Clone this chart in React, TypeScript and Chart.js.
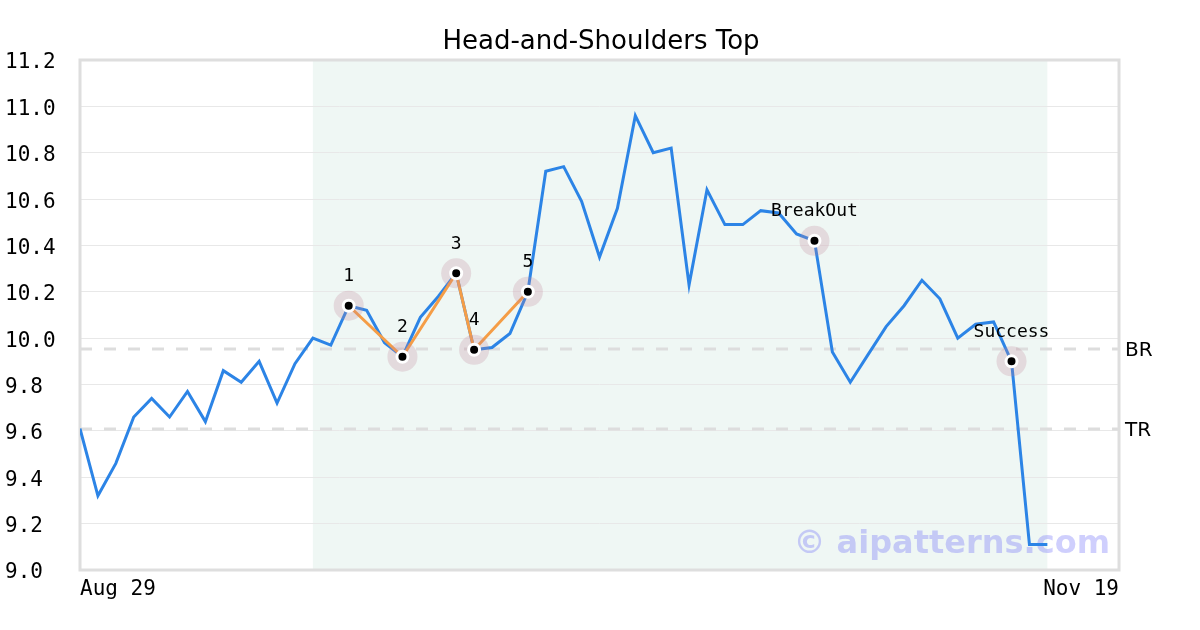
import { useEffect, useRef } from 'react';
import { Chart, registerables } from 'chart.js';

Chart.register(...registerables);

const TITLE = 'Head-and-Shoulders Top';
const WATERMARK = '© aipatterns.com';

// x tick labels and their slot positions (59 trading-day slots, data fills the first 55)
const xTickLabels = ['Aug 29', 'Nov 19'];
const xTickPositions = [0, 58];
const xMax = 58;

// closing prices
const prices = [
  9.61, 9.32, 9.46, 9.66, 9.74, 9.66, 9.77, 9.64, 9.86, 9.81,
  9.90, 9.72, 9.89, 10.00, 9.97, 10.14, 10.12, 9.98, 9.92, 10.09,
  10.18, 10.28, 9.95, 9.96, 10.02, 10.20, 10.72, 10.74, 10.59, 10.35,
  10.56, 10.96, 10.80, 10.82, 10.23, 10.64, 10.49, 10.49, 10.55, 10.54,
  10.45, 10.42, 9.94, 9.81, 9.93, 10.05, 10.14, 10.25, 10.17, 10.00,
  10.06, 10.07, 9.90, 9.11, 9.11,
];

// pattern pivot points
const patternIdx = [15, 18, 21, 22, 25];
const patternLabels = ['1', '2', '3', '4', '5'];

// event points
const eventIdx = [41, 52];
const eventLabels = ['BreakOut', 'Success'];

// horizontal levels
const levelNames = ['BR', 'TR'];
const levelValues = [9.955, 9.61];

// shaded pattern window (slot indices)
const shadeStart = 13;
const shadeEnd = 54;

const yMin = 9.0;
const yMax = 11.2;
const yStep = 0.2;

const MONO = '"DejaVu Sans Mono", monospace';
const SANS = '"DejaVu Sans", sans-serif';

export default function App() {
  const ref = useRef<HTMLCanvasElement | null>(null);

  useEffect(() => {
    document.body.style.margin = '0';
    const canvas = ref.current;
    if (!canvas) return;

    const pts = prices.map((v, i) => ({ x: i, y: v }));
    const pattern = patternIdx.map((i) => ({ x: i, y: prices[i] }));
    const markers = [...patternIdx, ...eventIdx].map((i) => ({ x: i, y: prices[i] }));

    const decor = {
      id: 'decor',
      beforeDraw(chart: any) {
        const { ctx, chartArea: a, scales } = chart;
        const x = scales.x;
        ctx.save();
        const x0 = x.getPixelForValue(shadeStart);
        const x1 = x.getPixelForValue(shadeEnd);
        ctx.fillStyle = 'rgb(239,247,244)';
        ctx.fillRect(x0, a.top, x1 - x0, a.bottom - a.top);
        ctx.restore();
      },
      beforeDatasetsDraw(chart: any) {
        const { ctx, chartArea: a, scales } = chart;
        const y = scales.y;
        ctx.save();
        // level lines
        ctx.strokeStyle = '#dddddd';
        ctx.lineWidth = 3;
        ctx.setLineDash([12, 12]);
        levelValues.forEach((v) => {
          const py = Math.round(y.getPixelForValue(v));
          ctx.beginPath();
          ctx.moveTo(a.left, py);
          ctx.lineTo(a.right, py);
          ctx.stroke();
        });
        ctx.setLineDash([]);
        // border
        ctx.strokeStyle = '#dedede';
        ctx.lineWidth = 3;
        ctx.strokeRect(a.left, a.top, a.right - a.left, a.bottom - a.top);
        // watermark
        ctx.font = 'bold 32px ' + SANS;
        ctx.fillStyle = 'rgba(110,110,250,0.33)';
        ctx.textAlign = 'right';
        ctx.textBaseline = 'alphabetic';
        ctx.fillText(WATERMARK, a.right - 9, 553);
        ctx.restore();
      },
      afterDraw(chart: any) {
        const { ctx, chartArea: a, scales } = chart;
        const x = scales.x;
        const y = scales.y;
        ctx.save();
        // title
        ctx.fillStyle = '#000';
        ctx.font = '26px ' + SANS;
        ctx.textAlign = 'center';
        ctx.textBaseline = 'alphabetic';
        ctx.fillText(TITLE, 601, 49);
        // level names
        ctx.font = '20px ' + SANS;
        ctx.textAlign = 'left';
        ctx.textBaseline = 'middle';
        levelValues.forEach((v, i) => {
          ctx.fillText(levelNames[i], a.right + 6, y.getPixelForValue(v) + 2);
        });
        // point labels
        ctx.font = '18px ' + MONO;
        ctx.textAlign = 'center';
        ctx.textBaseline = 'middle';
        patternIdx.forEach((idx, i) => {
          ctx.fillText(patternLabels[i], x.getPixelForValue(idx), y.getPixelForValue(prices[idx]) - 29);
        });
        eventIdx.forEach((idx, i) => {
          ctx.fillText(eventLabels[i], x.getPixelForValue(idx), y.getPixelForValue(prices[idx]) - 29);
        });
        ctx.restore();
      },
    };

    const chart = new Chart(canvas, {
      type: 'line',
      data: {
        datasets: [
          {
            data: markers,
            showLine: false,
            pointRadius: 5.5,
            pointBackgroundColor: '#000',
            pointBorderColor: '#fff',
            pointBorderWidth: 3,
            order: 0,
          } as any,
          {
            data: markers,
            showLine: false,
            pointRadius: 15,
            pointBackgroundColor: 'rgba(190,130,150,0.25)',
            pointBorderWidth: 0,
            order: 1,
          } as any,
          {
            data: pattern,
            borderColor: 'rgb(245,157,70)',
            borderWidth: 3,
            pointRadius: 0,
            tension: 0,
            order: 2,
          },
          {
            data: pts,
            borderColor: 'rgb(44,132,230)',
            borderWidth: 3,
            pointRadius: 0,
            tension: 0,
            order: 3,
          },
        ],
      },
      options: {
        responsive: false,
        animation: false,
        devicePixelRatio: 1,
        layout: { padding: { left: 5, top: 60, right: 81, bottom: 0 } },
        plugins: {
          legend: { display: false },
          tooltip: { enabled: false },
          title: { display: false },
        },
        scales: {
          x: {
            type: 'linear',
            min: 0,
            max: xMax,
            grid: { display: false, drawTicks: false },
            border: { display: false },
            afterBuildTicks: (scale: any) => {
              scale.ticks = xTickPositions.map((v) => ({ value: v }));
            },
            afterFit: (scale: any) => {
              scale.height = 60;
            },
            ticks: {
              autoSkip: false,
              maxRotation: 0,
              align: 'inner',
              padding: 7,
              color: '#000',
              font: { family: MONO, size: 21 },
              callback: (v: any) => {
                const k = xTickPositions.indexOf(Number(v));
                return k >= 0 ? xTickLabels[k] : '';
              },
            },
          },
          y: {
            min: yMin,
            max: yMax,
            grid: { color: '#e8e8e8', lineWidth: 1, drawTicks: false },
            border: { display: false },
            afterFit: (scale: any) => {
              scale.width = 75;
            },
            ticks: {
              stepSize: yStep,
              crossAlign: 'far',
              padding: 8,
              labelOffset: 3,
              color: '#000',
              font: { family: MONO, size: 21 },
              callback: (v: any) => Number(v).toFixed(1),
            },
          },
        },
      },
      plugins: [decor],
    } as any);

    return () => chart.destroy();
  }, []);

  return (
    <div style={{ width: 1200, height: 630 }}>
      <canvas ref={ref} width={1200} height={630} style={{ display: 'block' }} />
    </div>
  );
}
